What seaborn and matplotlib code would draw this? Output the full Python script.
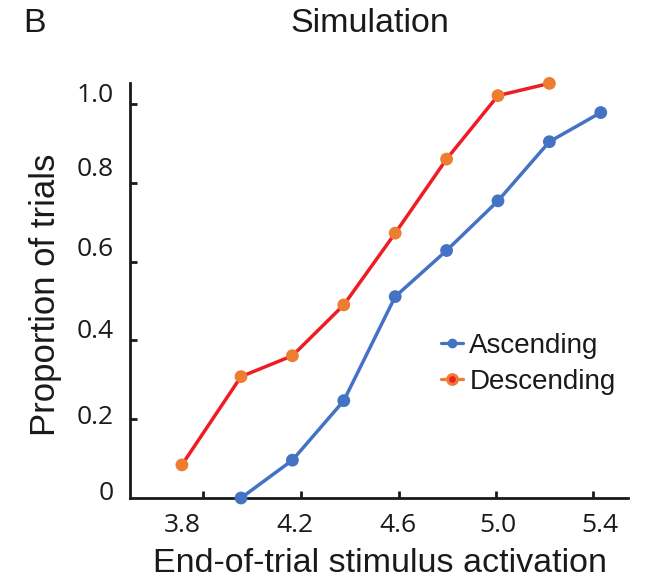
import matplotlib
matplotlib.use("Agg")
import matplotlib.pyplot as plt
import seaborn as sns
import pandas as pd
from matplotlib.lines import Line2D

# ---- data ----
asc_x = [4.0, 4.2, 4.4, 4.6, 4.8, 5.0, 5.2, 5.4]
asc_y = [0.0, 0.096, 0.247, 0.511, 0.628, 0.754, 0.904, 0.978]
desc_x = [3.77, 4.0, 4.2, 4.4, 4.6, 4.8, 5.0, 5.2]
desc_y = [0.084, 0.308, 0.361, 0.490, 0.672, 0.860, 1.021, 1.052]
series_names = ["Ascending", "Descending"]
x_tick_labels = ["3.8", "4.2", "4.6", "5.0", "5.4"]
y_tick_labels = ["0", "0.2", "0.4", "0.6", "0.8", "1.0"]

df = pd.DataFrame({
    "x": asc_x + desc_x,
    "y": asc_y + desc_y,
    "Condition": [series_names[0]] * len(asc_x) + [series_names[1]] * len(desc_x),
})

BLUE = "#4472C4"
ORANGE = "#ED7D31"
RED = "#EE1C25"

sns.set_style("ticks")
plt.rcParams["font.family"] = ["Liberation Sans", "DejaVu Sans"]

fig = plt.figure(figsize=(6.49, 5.82), dpi=100)
ax = fig.add_axes([130 / 649, 1 - 498 / 582, 498 / 649, 415 / 582])

sns.lineplot(data=df, x="x", y="y", hue="Condition",
             palette={"Ascending": BLUE, "Descending": RED},
             linewidth=2.5, legend=False, ax=ax, zorder=3)
sns.scatterplot(data=df, x="x", y="y", hue="Condition",
                palette={"Ascending": BLUE, "Descending": ORANGE},
                s=85, linewidth=0, legend=False, ax=ax, zorder=5, clip_on=False)

ax.set_xlim(3.568, 5.506)
ax.set_ylim(0, 1.053)

for s in ["top", "right"]:
    ax.spines[s].set_visible(False)
for s in ["left", "bottom"]:
    ax.spines[s].set_linewidth(2.0)
    ax.spines[s].set_color("#1a1a1a")

# tick labels (major, no mark) and tick marks (minor, no label)
x_label_pos = [3.77, 4.21, 4.61, 5.0, 5.395]
x_mark_pos = [3.852, 4.233, 4.615, 4.992, 5.370]
y_label_pos = [0.020, 0.211, 0.431, 0.637, 0.840, 1.030]
y_mark_pos = [0.2, 0.4, 0.6, 0.8, 1.0]

ax.set_xticks(x_label_pos)
ax.set_xticklabels(x_tick_labels)
ax.set_xticks(x_mark_pos, minor=True)
ax.set_yticks(y_label_pos)
ax.set_yticklabels(y_tick_labels)
ax.set_yticks(y_mark_pos, minor=True)

ax.tick_params(axis="both", which="major", length=0)
ax.tick_params(axis="x", which="major", pad=11, labelsize=19, labelcolor="#1a1a1a")
ax.tick_params(axis="y", which="major", pad=12, labelsize=19, labelcolor="#1a1a1a")
ax.tick_params(axis="both", which="minor", direction="in", length=5, width=2.0,
               color="#1a1a1a")
for lab in ax.get_xticklabels() + ax.get_yticklabels():
    lab.set_fontfamily(["Open Sans", "DejaVu Sans"])

ax.set_xlabel("End-of-trial stimulus activation", fontsize=24.5, color="#1a1a1a")
ax.set_ylabel("Proportion of trials", fontsize=25, color="#1a1a1a")
ax.xaxis.set_label_coords(0.502, -0.12)
ax.yaxis.set_label_coords(-0.136, 0.49)

fig.text(370 / 649, 1 - 23 / 582, "Simulation", fontsize=24.5, ha="center",
         va="center", color="#1a1a1a")
fig.text(23 / 649, 1 - 23 / 582, "B", fontsize=24.5, ha="left",
         va="center", color="#1a1a1a")

handles = [
    Line2D([], [], color=BLUE, lw=2.3, marker="o", markersize=6,
           markerfacecolor=BLUE, markeredgecolor=BLUE),
    Line2D([], [], color=ORANGE, lw=2.3, marker="o", markersize=7,
           markerfacecolor=RED, markeredgecolor=ORANGE, markeredgewidth=2.2),
]
fig.legend(handles, series_names, loc="upper left",
           bbox_to_anchor=(441 / 649, 1 - 333 / 582), frameon=False,
           fontsize=20, handlelength=0.8, handletextpad=0.22,
           labelspacing=0.36, borderpad=0, borderaxespad=0,
           labelcolor="#1a1a1a")

fig.savefig("out.png", dpi=100)
